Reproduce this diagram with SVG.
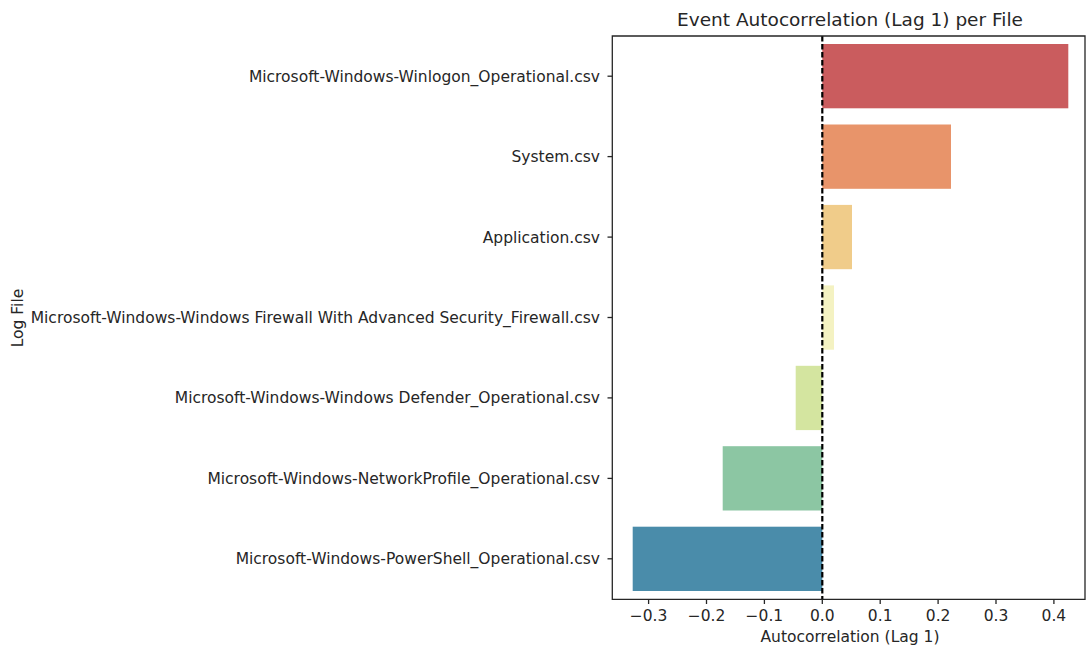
<svg xmlns="http://www.w3.org/2000/svg" width="1088" height="650" viewBox="0 0 1088 650">
<style>
text{font-family:"DejaVu Sans","Liberation Sans",sans-serif;fill:#262626;}
.tl{font-size:15.5px;}
.yl{font-size:15.5px;text-anchor:end;}
.xt{font-size:15.5px;text-anchor:middle;}
.spine{stroke:#262626;stroke-width:1.3;fill:none;}
.tick{stroke:#262626;stroke-width:1.3;}
</style>
<rect width="1088" height="650" fill="#ffffff"/>
<g id="title"><text x="850" y="26" style="font-size:18.5px;text-anchor:middle">Event Autocorrelation (Lag 1) per File</text></g>
<g id="bars">
<rect id="bar-winlogon" x="822.3" y="44" width="246" height="64.3" fill="#ca5c5e"/>
<rect id="bar-system" x="822.3" y="124.5" width="128.7" height="64.3" fill="#e8946a"/>
<rect id="bar-application" x="822.3" y="204.9" width="29.7" height="64.3" fill="#f0cc8a"/>
<rect id="bar-firewall" x="822.3" y="285.4" width="11.7" height="64.3" fill="#f4f2c2"/>
<rect id="bar-defender" x="795.7" y="365.8" width="26.6" height="64.3" fill="#d4e5a0"/>
<rect id="bar-networkprofile" x="722.7" y="446.2" width="99.6" height="64.3" fill="#8cc6a3"/>
<rect id="bar-powershell" x="632.7" y="526.7" width="189.6" height="64.3" fill="#4a8caa"/>
</g>
<g id="zero-line"><line x1="822.3" y1="36" x2="822.3" y2="599" stroke="#000" stroke-width="2.2" stroke-dasharray="5.5,2.5"/></g>
<g id="axes">
<path class="spine" d="M612.3,36 H1085 V599.3 H612.3 Z"/>
</g>
<g id="y-ticks">
<line class="tick" x1="607.5" y1="76.2" x2="612.3" y2="76.2"/>
<line class="tick" x1="607.5" y1="156.6" x2="612.3" y2="156.6"/>
<line class="tick" x1="607.5" y1="237.1" x2="612.3" y2="237.1"/>
<line class="tick" x1="607.5" y1="317.5" x2="612.3" y2="317.5"/>
<line class="tick" x1="607.5" y1="397.9" x2="612.3" y2="397.9"/>
<line class="tick" x1="607.5" y1="478.4" x2="612.3" y2="478.4"/>
<line class="tick" x1="607.5" y1="558.8" x2="612.3" y2="558.8"/>
<text class="yl" x="600" y="81.7">Microsoft-Windows-Winlogon_Operational.csv</text>
<text class="yl" x="600" y="162.1">System.csv</text>
<text class="yl" x="600" y="242.6">Application.csv</text>
<text class="yl" x="600" y="323">Microsoft-Windows-Windows Firewall With Advanced Security_Firewall.csv</text>
<text class="yl" x="600" y="403.4">Microsoft-Windows-Windows Defender_Operational.csv</text>
<text class="yl" x="600" y="483.9">Microsoft-Windows-NetworkProfile_Operational.csv</text>
<text class="yl" x="600" y="564.3">Microsoft-Windows-PowerShell_Operational.csv</text>
</g>
<g id="x-ticks">
<line class="tick" x1="648.6" y1="599.3" x2="648.6" y2="604"/>
<line class="tick" x1="706.5" y1="599.3" x2="706.5" y2="604"/>
<line class="tick" x1="764.4" y1="599.3" x2="764.4" y2="604"/>
<line class="tick" x1="822.3" y1="599.3" x2="822.3" y2="604"/>
<line class="tick" x1="880.2" y1="599.3" x2="880.2" y2="604"/>
<line class="tick" x1="938.1" y1="599.3" x2="938.1" y2="604"/>
<line class="tick" x1="996" y1="599.3" x2="996" y2="604"/>
<line class="tick" x1="1053.9" y1="599.3" x2="1053.9" y2="604"/>
<text class="xt" x="648.6" y="621">−0.3</text>
<text class="xt" x="706.5" y="621">−0.2</text>
<text class="xt" x="764.4" y="621">−0.1</text>
<text class="xt" x="822.3" y="621">0.0</text>
<text class="xt" x="880.2" y="621">0.1</text>
<text class="xt" x="938.1" y="621">0.2</text>
<text class="xt" x="996" y="621">0.3</text>
<text class="xt" x="1053.9" y="621">0.4</text>
</g>
<g id="x-label"><text class="tl" x="850" y="642" style="text-anchor:middle">Autocorrelation (Lag 1)</text></g>
<g id="y-label"><text class="tl" transform="translate(23,318) rotate(-90)" style="text-anchor:middle">Log File</text></g>
</svg>
